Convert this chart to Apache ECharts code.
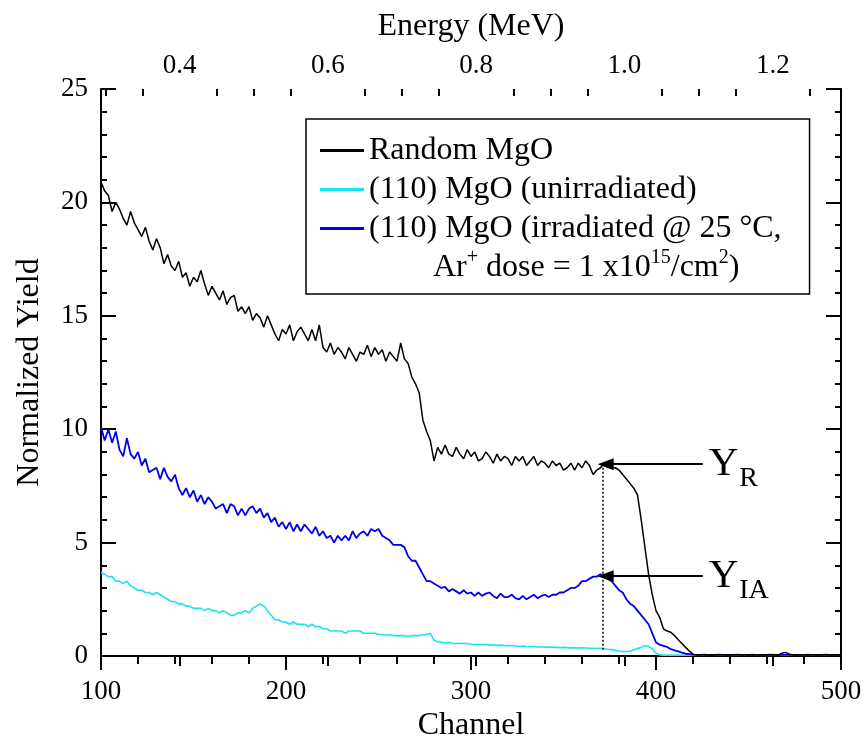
<!DOCTYPE html>
<html>
<head>
<meta charset="utf-8">
<script src="https://cdn.jsdelivr.net/npm/echarts@6/dist/echarts.min.js"></script>
<style>
  html, body { margin: 0; padding: 0; background: #fff; }
  #chart { width: 863px; height: 738px; }
</style>
</head>
<body>
<div id="chart"></div>
<script>
// RBS spectra of MgO, one value every CHANNEL_STEP channels starting at CHANNEL_START
const CHANNEL_START = 100;
const CHANNEL_STEP = 2;

const randomMgO = [
  20.9,20.5,20.3,19.6,20.0,19.7,19.3,19.0,19.6,19.1,
  18.8,18.5,18.9,18.3,17.9,18.4,18.0,17.3,17.7,17.2,
  17.0,17.4,16.7,16.9,16.3,16.7,16.5,17.0,16.4,15.9,
  16.3,16.0,15.7,16.1,15.5,15.8,15.9,15.2,15.4,15.1,
  15.4,14.8,15.1,14.9,14.5,15.0,14.6,14.2,13.9,14.4,
  14.2,14.6,13.9,14.3,14.5,14.2,13.9,14.4,13.9,14.6,
  13.6,13.4,13.8,13.3,13.6,13.4,13.1,13.6,13.3,13.0,
  13.4,13.3,13.7,13.2,13.6,13.3,13.5,13.0,13.4,13.2,
  13.0,13.8,13.1,12.9,12.3,12.0,11.6,10.4,9.9,9.5,
  8.6,9.2,8.9,9.3,8.9,8.8,9.2,8.9,8.7,9.1,
  8.8,9.0,8.6,8.7,9.0,8.8,8.5,8.9,8.6,8.8,
  8.7,8.4,8.8,8.6,8.8,8.4,8.6,8.8,8.4,8.6,
  8.5,8.3,8.6,8.4,8.5,8.2,8.3,8.5,8.2,8.5,
  8.3,8.6,8.4,8.0,8.2,8.3,8.5,8.4,8.3,8.3,
  8.2,8.0,7.8,7.6,7.4,7.1,6.0,4.8,3.6,2.7,
  2.0,1.7,1.2,1.1,1.05,0.9,0.72,0.55,0.38,0.22,
  0.08,0.05,0.06,0.05,0.04,0.05,0.06,0.05,0.05,0.04,
  0.05,0.06,0.05,0.05,0.06,0.05,0.04,0.05,0.05,0.06,
  0.05,0.05,0.06,0.05,0.12,0.16,0.08,0.05,0.06,0.05,
  0.05,0.04,0.05,0.06,0.05,0.05,0.06,0.05,0.04,0.05,
  0.05
];

const unirradiated = [
  3.7,3.6,3.5,3.5,3.3,3.3,3.2,3.3,3.1,3.0,
  2.9,2.9,2.8,2.8,2.7,2.8,2.7,2.6,2.5,2.4,
  2.4,2.3,2.3,2.2,2.2,2.1,2.1,2.1,2.0,2.1,
  2.0,2.0,1.9,2.0,1.9,1.8,1.8,1.9,1.9,2.0,
  1.9,2.1,2.2,2.3,2.2,2.0,1.8,1.6,1.6,1.5,
  1.5,1.4,1.5,1.4,1.4,1.4,1.3,1.4,1.3,1.3,
  1.2,1.2,1.1,1.1,1.1,1.1,1.0,1.1,1.1,1.1,
  1.1,1.0,1.0,1.0,1.0,0.95,0.95,0.9,0.95,0.9,
  0.9,0.9,0.9,0.85,0.9,0.9,0.9,0.95,0.95,1.0,
  0.7,0.62,0.6,0.58,0.6,0.56,0.55,0.56,0.55,0.55,
  0.52,0.5,0.52,0.5,0.5,0.48,0.48,0.47,0.48,0.45,
  0.46,0.45,0.44,0.42,0.44,0.42,0.41,0.42,0.4,0.4,
  0.39,0.4,0.38,0.38,0.37,0.38,0.37,0.36,0.36,0.35,
  0.36,0.35,0.34,0.34,0.33,0.34,0.32,0.3,0.28,0.25,
  0.22,0.2,0.2,0.22,0.28,0.33,0.38,0.45,0.42,0.32,
  0.12,0.05,0.04,0.04,0.03,0.04,0.04,0.03,0.04,0.04,
  0.03,0.04,0.04,0.03,0.04,0.04,0.03,0.04,0.03,0.04,
  0.04,0.03,0.04,0.04,0.03,0.04,0.04,0.03,0.04,0.04,
  0.03,0.04,0.04,0.03,0.04,0.03,0.04,0.04,0.03,0.04,
  0.04,0.03,0.04,0.04,0.03,0.04,0.04,0.03,0.04,0.04,
  0.04
];

const irradiated = [
  10.1,9.5,10.0,9.4,9.9,9.1,8.8,9.6,8.9,8.7,
  9.0,8.4,8.7,8.1,8.2,8.3,7.8,8.3,7.9,7.7,
  8.0,7.4,7.1,7.4,7.0,7.3,6.8,7.1,6.7,7.0,
  6.8,6.5,6.6,6.7,6.3,6.7,6.6,6.2,6.5,6.2,
  6.5,6.6,6.3,6.5,6.1,6.3,5.9,6.1,5.7,5.9,
  5.6,5.9,5.5,5.8,5.5,5.8,5.6,5.4,5.7,5.3,
  5.5,5.2,5.3,5.0,5.3,5.1,5.3,5.1,5.5,5.2,
  5.4,5.5,5.3,5.6,5.5,5.6,5.3,5.2,5.1,4.9,
  4.9,4.9,4.8,4.4,4.2,4.2,3.9,3.6,3.3,3.3,
  3.2,3.1,3.0,3.05,2.85,2.95,2.85,2.75,2.9,2.75,
  2.8,2.65,2.8,2.65,2.75,2.8,2.65,2.55,2.75,2.6,
  2.6,2.7,2.55,2.5,2.65,2.5,2.6,2.7,2.55,2.65,
  2.7,2.6,2.7,2.7,2.8,2.8,2.9,3.0,3.0,3.1,
  3.3,3.3,3.4,3.5,3.5,3.6,3.5,3.4,3.3,3.1,
  2.9,2.8,2.5,2.3,2.2,2.0,1.8,1.6,1.4,1.0,
  0.6,0.5,0.45,0.4,0.3,0.25,0.2,0.15,0.1,0.08,
  0.06,0.05,0.05,0.06,0.05,0.04,0.05,0.06,0.05,0.05,
  0.04,0.05,0.06,0.05,0.05,0.04,0.06,0.05,0.05,0.04,
  0.05,0.06,0.05,0.04,0.05,0.05,0.06,0.05,0.04,0.05,
  0.05,0.06,0.05,0.05,0.04,0.05,0.06,0.05,0.05,0.04,
  0.05
];

// Axis ticks and labels
const channelLabels = [100, 200, 300, 400, 500];
const yieldLabels = [0, 5, 10, 15, 20, 25];
const energyLabels = [0.4, 0.6, 0.8, 1.0, 1.2];
const energyMinorTicks = [0.30, 0.35, 0.45, 0.50, 0.55, 0.65, 0.70, 0.75, 0.85, 0.90, 0.95,
                          1.05, 1.10, 1.15, 1.25];
// Energy calibration at the ends of the channel axis (MeV)
const ENERGY_AT_CH100 = 0.294;
const ENERGY_AT_CH500 = 1.292;

// Annotation anchors (channel, normalized yield)
const MARK_CHANNEL = 371.4;
const YR_LEVEL = 8.46;
const YIA_LEVEL = 3.52;
const ARROW_TAIL_CHANNEL = 425.3;
const ARROW_HEAD_CHANNEL = 372.8;

const seriesNames = [
  'Random MgO',
  '(110) MgO (unirradiated)',
  '(110) MgO (irradiated @ 25 °C,'
];

const toPairs = arr => arr.map((v, i) => [CHANNEL_START + i * CHANNEL_STEP, v]);

const SERIF = 'Liberation Serif';
const axisLineStyle = { color: '#000', width: 2 };

const chart = echarts.init(document.getElementById('chart'), null, { renderer: 'canvas' });

const arrowEnd = { symbol: 'triangle', symbolSize: [12, 16] };
const option = {
  animation: false,
  backgroundColor: '#fff',
  grid: { left: 101, right: 22, top: 89, bottom: 82, outerBoundsMode: 'none', containLabel: false },
  xAxis: [
    {
      type: 'value', position: 'bottom', min: 100, max: 500, interval: 100,
      name: 'Channel', nameLocation: 'middle', nameGap: 51,
      nameTextStyle: { fontFamily: SERIF, fontSize: 32, color: '#000' },
      axisLine: { show: true, lineStyle: axisLineStyle },
      axisTick: { show: true, inside: false, length: 14, lineStyle: { color: '#000', width: 2 } },
      minorTick: { show: true, splitNumber: 5, length: 8, lineStyle: { color: '#000', width: 2 } },
      axisLabel: { show: true, margin: 22, fontFamily: SERIF, fontSize: 27, color: '#000',
        customValues: channelLabels },
      splitLine: { show: false }
    },
    {
      type: 'value', position: 'top', min: ENERGY_AT_CH100, max: ENERGY_AT_CH500,
      name: 'Energy (MeV)', nameLocation: 'middle', nameGap: 46,
      nameTextStyle: { fontFamily: SERIF, fontSize: 32, color: '#000' },
      axisLine: { show: true, lineStyle: axisLineStyle },
      axisTick: { show: true, inside: true, length: 10, customValues: energyLabels,
        lineStyle: { color: '#000', width: 2 } },
      axisLabel: { show: true, margin: 10, fontFamily: SERIF, fontSize: 27, color: '#000',
        customValues: energyLabels, formatter: v => v.toFixed(1) },
      splitLine: { show: false }
    },
    {
      type: 'value', position: 'top', min: ENERGY_AT_CH100, max: ENERGY_AT_CH500,
      axisLine: { show: false },
      axisTick: { show: true, inside: true, length: 7, customValues: energyMinorTicks,
        lineStyle: { color: '#000', width: 2 } },
      axisLabel: { show: false },
      splitLine: { show: false }
    }
  ],
  yAxis: [
    {
      type: 'value', position: 'left', min: 0, max: 25, interval: 5,
      name: 'Normalized Yield', nameLocation: 'middle', nameGap: 55,
      nameTextStyle: { fontFamily: SERIF, fontSize: 32, color: '#000' },
      axisLine: { show: true, lineStyle: axisLineStyle },
      axisTick: { show: true, inside: true, length: 15, lineStyle: { color: '#000', width: 2 } },
      minorTick: { show: true, splitNumber: 5, length: 6, lineStyle: { color: '#000', width: 2 } },
      axisLabel: { show: true, margin: 13, fontFamily: SERIF, fontSize: 27, color: '#000',
        customValues: yieldLabels },
      splitLine: { show: false }
    },
    {
      type: 'value', position: 'right', min: 0, max: 25, interval: 5,
      axisLine: { show: true, lineStyle: axisLineStyle },
      axisTick: { show: true, inside: true, length: 15, lineStyle: { color: '#000', width: 2 } },
      minorTick: { show: true, splitNumber: 5, length: 6, lineStyle: { color: '#000', width: 2 } },
      axisLabel: { show: false },
      splitLine: { show: false }
    }
  ],
  legend: {
    orient: 'vertical', left: 306, top: 119,
    padding: [12, 28, 46, 14], itemGap: 0, itemWidth: 44, itemHeight: 3,
    icon: 'rect', borderColor: '#000', borderWidth: 1.5, backgroundColor: '#fff',
    selectedMode: false,
    textStyle: { fontFamily: SERIF, fontSize: 32, color: '#000', lineHeight: 39 },
    data: seriesNames
  },
  series: [
    {
      name: seriesNames[1], type: 'line', data: toPairs(unirradiated),
      showSymbol: false, color: '#18e4f4', lineStyle: { width: 1.6, color: '#18e4f4' },
      emphasis: { disabled: true }, z: 2
    },
    {
      name: seriesNames[2], type: 'line', data: toPairs(irradiated),
      showSymbol: false, color: '#0000f0', lineStyle: { width: 1.8, color: '#0000f0' },
      emphasis: { disabled: true }, z: 3
    },
    {
      name: seriesNames[0], type: 'line', data: toPairs(randomMgO),
      showSymbol: false, color: '#000', lineStyle: { width: 1.5, color: '#000' },
      emphasis: { disabled: true }, z: 4,
      markLine: {
        silent: true, animation: false,
        label: { show: false },
        emphasis: { disabled: true },
        data: [
          [
            { coord: [ARROW_TAIL_CHANNEL, YR_LEVEL], symbol: 'none',
              lineStyle: { color: '#000', width: 2, type: 'solid' } },
            Object.assign({ coord: [ARROW_HEAD_CHANNEL, YR_LEVEL] }, arrowEnd)
          ],
          [
            { coord: [ARROW_TAIL_CHANNEL, YIA_LEVEL], symbol: 'none',
              lineStyle: { color: '#000', width: 2, type: 'solid' } },
            Object.assign({ coord: [ARROW_HEAD_CHANNEL, YIA_LEVEL] }, arrowEnd)
          ],
          [
            { coord: [MARK_CHANNEL, 8.3], symbol: 'none',
              lineStyle: { color: '#000', width: 1.5, type: [2, 2] } },
            { coord: [MARK_CHANNEL, 0.2], symbol: 'none' }
          ]
        ]
      }
    }
  ]
};

chart.setOption(option);

// Second line of the third legend entry and the Y labels beside the arrows
function placeLabels() {
  const px = p => chart.convertToPixel({ xAxisIndex: 0, yAxisIndex: 0 }, p);
  const yR = px([428.5, YR_LEVEL]);
  const r = px([445.0, 7.8]);
  const yIA = px([428.5, YIA_LEVEL]);
  const ia = px([445.0, 2.87]);
  const txt = (p, s, size) => ({
    type: 'text', x: p[0], y: p[1], z: 100,
    style: { text: s, fontFamily: SERIF, fontSize: size, fill: '#000',
      align: 'left', verticalAlign: 'middle' }
  });
  chart.setOption({
    graphic: [
      {
        type: 'text', left: 433, top: 248, z: 100,
        style: {
          text: '{n|Ar}{s|+}{n| dose = 1 x10}{s|15}{n|/cm}{s|2}{n|)}',
          fill: '#000',
          rich: {
            n: { fontFamily: SERIF, fontSize: 32, lineHeight: 39, fill: '#000' },
            s: { fontFamily: SERIF, fontSize: 20, lineHeight: 26, verticalAlign: 'top', fill: '#000' }
          }
        }
      },
      txt(yR, 'Y', 41), txt(r, 'R', 28),
      txt(yIA, 'Y', 41), txt(ia, 'IA', 28)
    ]
  });
}
placeLabels();
</script>
</body>
</html>
